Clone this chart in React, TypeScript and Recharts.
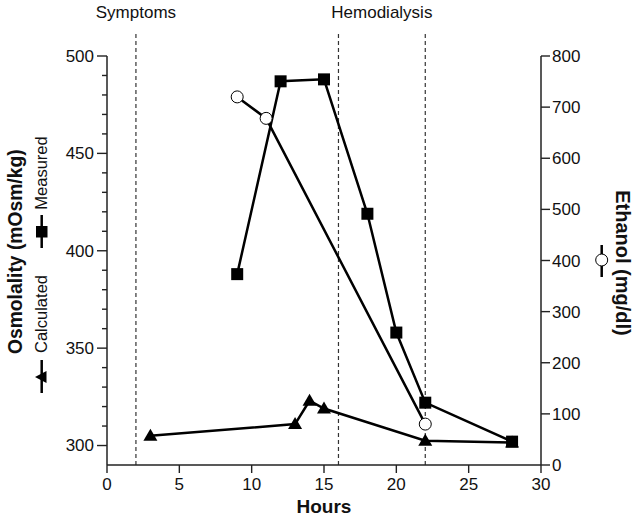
import {
  LineChart,
  Line,
  XAxis,
  YAxis,
  ReferenceLine,
} from "recharts";

// hours after ingestion
const measuredHours = [9, 12, 15, 18, 20, 22, 28];
const measuredOsm = [388, 487, 488, 419, 358, 322, 302];

const calculatedHours = [3, 13, 14, 15, 22, 28];
const calculatedOsm = [305, 311, 323, 319, 302.5, 301.5];

const ethanolHours = [9, 11, 22];
const ethanolLevels = [720, 678, 80];

const hourTicks = [0, 5, 10, 15, 20, 25, 30];
const osmTicks = [300, 310, 320, 330, 340, 350, 360, 370, 380, 390, 400, 410, 420, 430, 440, 450, 460, 470, 480, 490, 500];
const ethanolTicks = [0, 100, 200, 300, 400, 500, 600, 700, 800];

const eventHours = [2, 16, 22];
const eventLabels = [
  { text: "Symptoms", hour: 2 },
  { text: "Hemodialysis", hour: (16 + 22) / 2 },
];

const measured = measuredHours.map((h, i) => ({ h, v: measuredOsm[i] }));
const calculated = calculatedHours.map((h, i) => ({ h, v: calculatedOsm[i] }));
const ethanol = ethanolHours.map((h, i) => ({ h, v: ethanolLevels[i] }));

const FONT = "'Liberation Sans', Arial, sans-serif";
const INK = "#111";
const AXIS = "#222";
const LINE_TOP = 512; // dashed markers run above the 500 tick

function SquareDot(props: any) {
  const { cx, cy, index } = props;
  return <rect key={`sq-${index}`} x={cx - 6} y={cy - 6} width={12} height={12} fill="#000" />;
}

function TriangleDot(props: any) {
  const { cx, cy, index } = props;
  return (
    <polygon
      key={`tr-${index}`}
      points={`${cx},${cy - 7} ${cx + 7},${cy + 5} ${cx - 7},${cy + 5}`}
      fill="#000"
    />
  );
}

function OsmTick(props: any) {
  const { x, y, payload } = props;
  const major = payload.value % 50 === 0;
  return (
    <g>
      <line x1={x - (major ? 10 : 5)} x2={x} y1={y} y2={y} stroke={AXIS} strokeWidth={1.4} />
      {major && (
        <text x={x - 13} y={y} dy="0.35em" textAnchor="end" fontSize={17} fill={INK} fontFamily={FONT}>
          {payload.value}
        </text>
      )}
    </g>
  );
}

function AxisTitles() {
  return (
    <svg
      width={637}
      height={518}
      style={{ position: "absolute", left: 0, top: 0, pointerEvents: "none" }}
      fontFamily={FONT}
    >
      <text
        x={22}
        y={251.7}
        transform="rotate(-90 22 251.7)"
        textAnchor="middle"
        fontSize={19.3}
        fontWeight="bold"
        fill={INK}
      >
        Osmolality (mOsm/kg)
      </text>
      <text x={46.5} y={173} transform="rotate(-90 46.5 173)" textAnchor="middle" fontSize={16.5} fill={INK}>
        Measured
      </text>
      <line x1={41.7} x2={41.7} y1={215} y2={248} stroke="#000" strokeWidth={2.5} />
      <rect x={36} y={226} width={11.5} height={11.5} fill="#000" />
      <text x={46.5} y={314} transform="rotate(-90 46.5 314)" textAnchor="middle" fontSize={16.5} fill={INK}>
        Calculated
      </text>
      <line x1={41.7} x2={41.7} y1={360} y2={393} stroke="#000" strokeWidth={2.5} />
      <polygon points="35,377 46.5,371 46.5,383" fill="#000" />

      <text
        x={616}
        y={263}
        transform="rotate(90 616 263)"
        textAnchor="middle"
        fontSize={20}
        fontWeight="bold"
        fill={INK}
      >
        Ethanol (mg/dl)
      </text>
      <line x1={601.7} x2={601.7} y1={245} y2={277} stroke="#000" strokeWidth={2.5} />
      <circle cx={601.7} cy={260} r={6} fill="#fff" stroke="#000" strokeWidth={1} />
    </svg>
  );
}

export default function App() {
  return (
    <div style={{ position: "relative", width: 637, height: 518, background: "#fff", fontFamily: FONT }}>
      <style>{"body{margin:0}"}</style>
      <LineChart width={637} height={518} margin={{ top: 56, right: 0, bottom: 0, left: 0 }}>
        <XAxis
          type="number"
          dataKey="h"
          domain={[0, 30]}
          ticks={hourTicks}
          tickSize={8}
          tickMargin={5}
          height={53}
          axisLine={{ stroke: AXIS, strokeWidth: 1.5 }}
          tickLine={{ stroke: AXIS, strokeWidth: 1.4 }}
          tick={{ fontSize: 17, fill: INK, fontFamily: FONT }}
          label={{ value: "Hours", position: "insideBottom", offset: 5, fontSize: 19, fontWeight: "bold", fill: INK }}
        />
        <YAxis
          yAxisId="osm"
          domain={[290, 500]}
          ticks={osmTicks}
          width={107}
          tickSize={0}
          tickMargin={0}
          tickLine={false}
          axisLine={{ stroke: AXIS, strokeWidth: 1.5 }}
          tick={<OsmTick />}
          interval={0}
        />
        <YAxis
          yAxisId="eth"
          orientation="right"
          domain={[0, 800]}
          ticks={ethanolTicks}
          width={96}
          tickSize={9}
          tickMargin={2}
          interval={0}
          axisLine={{ stroke: AXIS, strokeWidth: 1.5 }}
          tickLine={{ stroke: AXIS, strokeWidth: 1.4 }}
          tick={{ fontSize: 17, fill: INK, fontFamily: FONT, textAnchor: "start" }}
        />

        {eventHours.map((h) => (
          <ReferenceLine
            key={`ev-${h}`}
            yAxisId="osm"
            segment={[{ x: h, y: 290 }, { x: h, y: LINE_TOP }]}
            stroke="#333"
            strokeWidth={1.2}
            strokeDasharray="4 3"
            ifOverflow="visible"
          />
        ))}
        {eventLabels.map((e) => (
          <ReferenceLine
            key={`lb-${e.text}`}
            yAxisId="osm"
            segment={[{ x: e.hour, y: 290 }, { x: e.hour, y: LINE_TOP }]}
            stroke="none"
            ifOverflow="visible"
            label={{ value: e.text, position: "top", offset: 14.5, fontSize: 17, fill: INK, fontFamily: FONT }}
          />
        ))}

        <Line
          yAxisId="osm"
          data={calculated}
          dataKey="v"
          stroke="#000"
          strokeWidth={2.5}
          dot={<TriangleDot />}
          isAnimationActive={false}
        />
        <Line
          yAxisId="osm"
          data={measured}
          dataKey="v"
          stroke="#000"
          strokeWidth={2.5}
          dot={<SquareDot />}
          isAnimationActive={false}
        />
        <Line
          yAxisId="eth"
          data={ethanol}
          dataKey="v"
          stroke="#000"
          strokeWidth={2.5}
          dot={{ r: 6, fill: "#fff", stroke: "#000", strokeWidth: 1 }}
          isAnimationActive={false}
        />
      </LineChart>
      <AxisTitles />
    </div>
  );
}
